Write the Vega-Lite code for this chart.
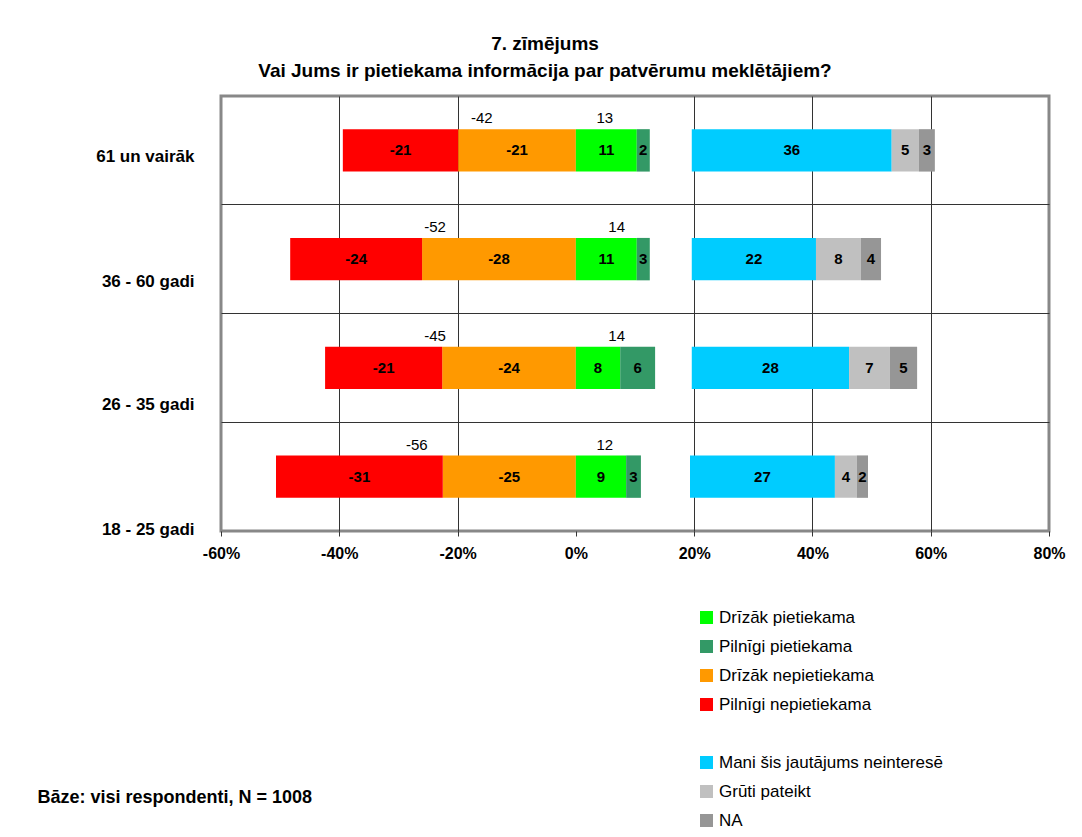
{
  "$schema": "https://vega.github.io/schema/vega-lite/v6.json",
  "width": 828,
  "height": 435,
  "autosize": {"type": "none"},
  "padding": {"left": 221, "top": 96, "right": 33, "bottom": 306},
  "background": "white",
  "title": {
    "text": ["7. zīmējums", "Vai Jums ir pietiekama informācija par patvērumu meklētājiem?"],
    "font": "Liberation Sans",
    "fontSize": 19,
    "fontWeight": "bold",
    "color": "black",
    "anchor": "middle",
    "frame": "group",
    "dx": -90,
    "offset": 15,
    "lineHeight": 27
  },
  "config": {
    "font": "Liberation Sans",
    "view": {"stroke": "#888888", "strokeWidth": 3},
    "text": {"font": "Liberation Sans"}
  },
  "datasets": {
    "segs": [
      {"age": "61 un vairāk", "cat": "Drīzāk nepietiekama", "ord": 1, "v": -19.9, "label": "-21"},
      {"age": "61 un vairāk", "cat": "Pilnīgi nepietiekama", "ord": 2, "v": -19.5, "label": "-21"},
      {"age": "61 un vairāk", "cat": "Drīzāk pietiekama", "ord": 3, "v": 10.3, "label": "11"},
      {"age": "61 un vairāk", "cat": "Pilnīgi pietiekama", "ord": 4, "v": 2.2, "label": "2"},
      {"age": "61 un vairāk", "cat": " ", "ord": 5, "v": 7.1, "label": ""},
      {"age": "61 un vairāk", "cat": "Mani šis jautājums neinteresē", "ord": 6, "v": 33.8, "label": "36"},
      {"age": "61 un vairāk", "cat": "Grūti pateikt", "ord": 7, "v": 4.6, "label": "5"},
      {"age": "61 un vairāk", "cat": "NA", "ord": 8, "v": 2.7, "label": "3"},
      {"age": "36 - 60 gadi", "cat": "Drīzāk nepietiekama", "ord": 1, "v": -26.0, "label": "-28"},
      {"age": "36 - 60 gadi", "cat": "Pilnīgi nepietiekama", "ord": 2, "v": -22.3, "label": "-24"},
      {"age": "36 - 60 gadi", "cat": "Drīzāk pietiekama", "ord": 3, "v": 10.3, "label": "11"},
      {"age": "36 - 60 gadi", "cat": "Pilnīgi pietiekama", "ord": 4, "v": 2.2, "label": "3"},
      {"age": "36 - 60 gadi", "cat": " ", "ord": 5, "v": 7.1, "label": ""},
      {"age": "36 - 60 gadi", "cat": "Mani šis jautājums neinteresē", "ord": 6, "v": 21.0, "label": "22"},
      {"age": "36 - 60 gadi", "cat": "Grūti pateikt", "ord": 7, "v": 7.6, "label": "8"},
      {"age": "36 - 60 gadi", "cat": "NA", "ord": 8, "v": 3.4, "label": "4"},
      {"age": "26 - 35 gadi", "cat": "Drīzāk nepietiekama", "ord": 1, "v": -22.6, "label": "-24"},
      {"age": "26 - 35 gadi", "cat": "Pilnīgi nepietiekama", "ord": 2, "v": -19.8, "label": "-21"},
      {"age": "26 - 35 gadi", "cat": "Drīzāk pietiekama", "ord": 3, "v": 7.5, "label": "8"},
      {"age": "26 - 35 gadi", "cat": "Pilnīgi pietiekama", "ord": 4, "v": 5.9, "label": "6"},
      {"age": "26 - 35 gadi", "cat": " ", "ord": 5, "v": 6.2, "label": ""},
      {"age": "26 - 35 gadi", "cat": "Mani šis jautājums neinteresē", "ord": 6, "v": 26.6, "label": "28"},
      {"age": "26 - 35 gadi", "cat": "Grūti pateikt", "ord": 7, "v": 6.9, "label": "7"},
      {"age": "26 - 35 gadi", "cat": "NA", "ord": 8, "v": 4.6, "label": "5"},
      {"age": "18 - 25 gadi", "cat": "Drīzāk nepietiekama", "ord": 1, "v": -22.5, "label": "-25"},
      {"age": "18 - 25 gadi", "cat": "Pilnīgi nepietiekama", "ord": 2, "v": -28.2, "label": "-31"},
      {"age": "18 - 25 gadi", "cat": "Drīzāk pietiekama", "ord": 3, "v": 8.5, "label": "9"},
      {"age": "18 - 25 gadi", "cat": "Pilnīgi pietiekama", "ord": 4, "v": 2.5, "label": "3"},
      {"age": "18 - 25 gadi", "cat": " ", "ord": 5, "v": 8.3, "label": ""},
      {"age": "18 - 25 gadi", "cat": "Mani šis jautājums neinteresē", "ord": 6, "v": 24.5, "label": "27"},
      {"age": "18 - 25 gadi", "cat": "Grūti pateikt", "ord": 7, "v": 3.7, "label": "4"},
      {"age": "18 - 25 gadi", "cat": "NA", "ord": 8, "v": 1.9, "label": "2"}
    ],
    "totals": [
      {"age": "61 un vairāk", "lx": -15.9, "lbl": "-42"},
      {"age": "61 un vairāk", "lx": 4.9, "lbl": "13"},
      {"age": "36 - 60 gadi", "lx": -23.8, "lbl": "-52"},
      {"age": "36 - 60 gadi", "lx": 6.9, "lbl": "14"},
      {"age": "26 - 35 gadi", "lx": -23.8, "lbl": "-45"},
      {"age": "26 - 35 gadi", "lx": 6.9, "lbl": "14"},
      {"age": "18 - 25 gadi", "lx": -26.9, "lbl": "-56"},
      {"age": "18 - 25 gadi", "lx": 4.9, "lbl": "12"}
    ]
  },
  "layer": [
    {
      "data": {"name": "segs"},
      "mark": {"type": "bar", "height": {"band": 0.39}, "strokeWidth": 0},
      "encoding": {
        "x": {
          "field": "v",
          "type": "quantitative",
          "stack": "zero",
          "scale": {"domain": [-60, 80], "nice": false, "zero": false},
          "axis": {
            "title": "Bāze: visi respondenti, N = 1008",
            "titleFont": "Liberation Sans",
            "titleFontWeight": "bold",
            "titleFontSize": 18,
            "titleColor": "black",
            "titleAnchor": "start",
            "titleAlign": "left",
            "titleBaseline": "middle",
            "titleX": -184,
            "titleY": 266,
            "values": [-60, -40, -20, 0, 20, 40, 60, 80],
            "labelExpr": "datum.value + '%'",
            "labelFont": "Liberation Sans",
            "labelFontWeight": "bold",
            "labelFontSize": 16,
            "labelColor": "black",
            "labelFlush": false,
            "labelOverlap": false,
            "labelPadding": 9,
            "tickSize": 5,
            "tickColor": "#333333",
            "domain": false,
            "grid": true,
            "gridColor": "#333333",
            "gridWidth": 1,
            "gridOpacity": {"condition": {"test": "datum.value === -60 || datum.value === 80 || datum.value === 0", "value": 0}, "value": 1}
          }
        },
        "y": {
          "field": "age",
          "type": "nominal",
          "sort": ["61 un vairāk", "36 - 60 gadi", "26 - 35 gadi", "18 - 25 gadi"],
          "scale": {"paddingInner": 0, "paddingOuter": 0},
          "axis": {
            "title": null,
            "labelFont": "Liberation Sans",
            "labelFontWeight": "bold",
            "labelFontSize": 17,
            "labelColor": "black",
            "labelPadding": 27,
            "labelLimit": 300,
            "ticks": false,
            "domain": false,
            "grid": true,
            "bandPosition": 0,
            "gridColor": "#333333",
            "gridWidth": 1,
            "gridOpacity": {"condition": {"test": "datum.value === '61 un vairāk'", "value": 0}, "value": 1},
            "labelOffset": {"condition": [
              {"test": "datum.value === '61 un vairāk'", "value": 7},
              {"test": "datum.value === '36 - 60 gadi'", "value": 23},
              {"test": "datum.value === '26 - 35 gadi'", "value": 37}
            ], "value": 53}
          }
        },
        "color": {
          "field": "cat",
          "type": "nominal",
          "scale": {
            "domain": ["Drīzāk pietiekama", "Pilnīgi pietiekama", "Drīzāk nepietiekama", "Pilnīgi nepietiekama", " ", "Mani šis jautājums neinteresē", "Grūti pateikt", "NA"],
            "range": ["#00FF00", "#339966", "#FF9900", "#FF0000", "rgba(255,255,255,0)", "#00CCFF", "#C0C0C0", "#969696"]
          },
          "legend": {
            "orient": "none",
            "legendX": 477,
            "legendY": 513,
            "title": null,
            "direction": "vertical",
            "symbolType": "square",
            "symbolSize": 169,
            "symbolStrokeWidth": 0,
            "labelFont": "Liberation Sans",
            "labelFontSize": 17,
            "labelColor": "black",
            "labelLimit": 400,
            "labelOffset": 4,
            "rowPadding": 11,
            "padding": 0
          }
        },
        "order": {"field": "ord", "type": "quantitative"}
      }
    },
    {
      "data": {"name": "segs"},
      "mark": {"type": "text", "fontWeight": "bold", "fontSize": 15, "color": "black", "align": "center", "baseline": "middle"},
      "encoding": {
        "x": {"field": "v", "type": "quantitative", "stack": "zero", "bandPosition": 0.5},
        "y": {"field": "age", "type": "nominal", "sort": ["61 un vairāk", "36 - 60 gadi", "26 - 35 gadi", "18 - 25 gadi"]},
        "detail": {"field": "cat", "type": "nominal"},
        "order": {"field": "ord", "type": "quantitative"},
        "text": {"field": "label", "type": "nominal"}
      }
    },
    {
      "data": {"name": "totals"},
      "mark": {"type": "text", "fontSize": 15, "color": "black", "align": "center", "baseline": "middle", "dy": -32},
      "encoding": {
        "x": {"field": "lx", "type": "quantitative"},
        "y": {"field": "age", "type": "nominal", "sort": ["61 un vairāk", "36 - 60 gadi", "26 - 35 gadi", "18 - 25 gadi"]},
        "text": {"field": "lbl", "type": "nominal"}
      }
    },
    {
      "mark": {"type": "rule", "color": "black", "strokeWidth": 3},
      "encoding": {"x": {"datum": 0}}
    }
  ]
}
